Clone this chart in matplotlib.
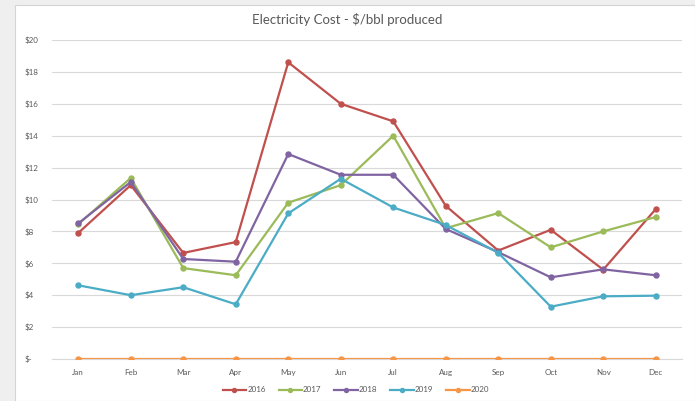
import matplotlib.pyplot as plt
from matplotlib.patches import Rectangle

plt.rcParams["text.parse_math"] = False
plt.rcParams["font.family"] = ["Lato", "DejaVu Sans"]

months = ["Jan", "Feb", "Mar", "Apr", "May", "Jun",
          "Jul", "Aug", "Sep", "Oct", "Nov", "Dec"]
cost_2016 = [7.9, 10.9, 6.65, 7.33, 18.6, 16.0, 14.9, 9.6, 6.8, 8.1, 5.6, 9.4]
cost_2017 = [8.45, 11.35, 5.7, 5.25, 9.8, 10.9, 14.0, 8.2, 9.15, 7.0, 8.0, 8.9]
cost_2018 = [8.5, 11.1, 6.27, 6.1, 12.85, 11.55, 11.55, 8.15, 6.7, 5.12, 5.62, 5.25]
cost_2019 = [4.62, 4.0, 4.5, 3.43, 9.13, 11.3, 9.5, 8.4, 6.66, 3.28, 3.93, 3.97]
cost_2020 = [0] * 12
y_ticks = [0, 2, 4, 6, 8, 10, 12, 14, 16, 18, 20]
y_labels = ["$-"] + [f"${v}" for v in y_ticks[1:]]

series = [
    ("2016", cost_2016, "#C0504D"),
    ("2017", cost_2017, "#9BBB59"),
    ("2018", cost_2018, "#8064A2"),
    ("2019", cost_2019, "#4BACC6"),
    ("2020", cost_2020, "#F79646"),
]

W, H = 695, 401
fig = plt.figure(figsize=(W / 100, H / 100), dpi=100)
fig.patch.set_facecolor("#efefef")
# white chart card with a thin border, kept behind the axes
fig.patches.append(Rectangle((15 / W, 0), 1 - 15 / W, 1 - 5 / H, transform=fig.transFigure,
                             facecolor="white", edgecolor="#d4d4d4", linewidth=0.8,
                             zorder=-10))

ax = fig.add_axes([52 / W, 42 / H, 630 / W, 319 / H])
ax.set_facecolor("none")
x = range(len(months))
for name, values, color in series:
    ax.plot(x, values, color=color, linewidth=1.6, marker="o", markersize=3.6,
            label=name, zorder=3)

ax.set_xlim(-0.5, 11.5)
ax.set_ylim(0, 20)
ax.set_xticks(list(x))
ax.set_xticklabels(months)
ax.set_yticks(y_ticks)
ax.set_yticklabels(y_labels)
ax.tick_params(length=0, labelsize=5.8, labelcolor="#595959", pad=7)
ax.tick_params(axis="y", pad=20)
for lbl in ax.get_yticklabels():
    lbl.set_horizontalalignment("left")
ax.grid(axis="y", color="#d9d9d9", linewidth=0.8)
ax.set_axisbelow(True)
for side in ("top", "right", "left"):
    ax.spines[side].set_visible(False)
ax.spines["bottom"].set_color("#d9d9d9")

fig.text(347 / W, 1 - 20 / H, "Electricity Cost - $/bbl produced",
         ha="center", va="center", fontsize=9.5, color="#595959")

fig.legend(loc="center", bbox_to_anchor=(356 / W, 11 / H), ncol=5, frameon=False,
           fontsize=5.8, labelcolor="#595959", handlelength=2.9, handletextpad=0.15,
           columnspacing=1.6, markerscale=0.8)

fig.savefig("out.png", dpi=100)
